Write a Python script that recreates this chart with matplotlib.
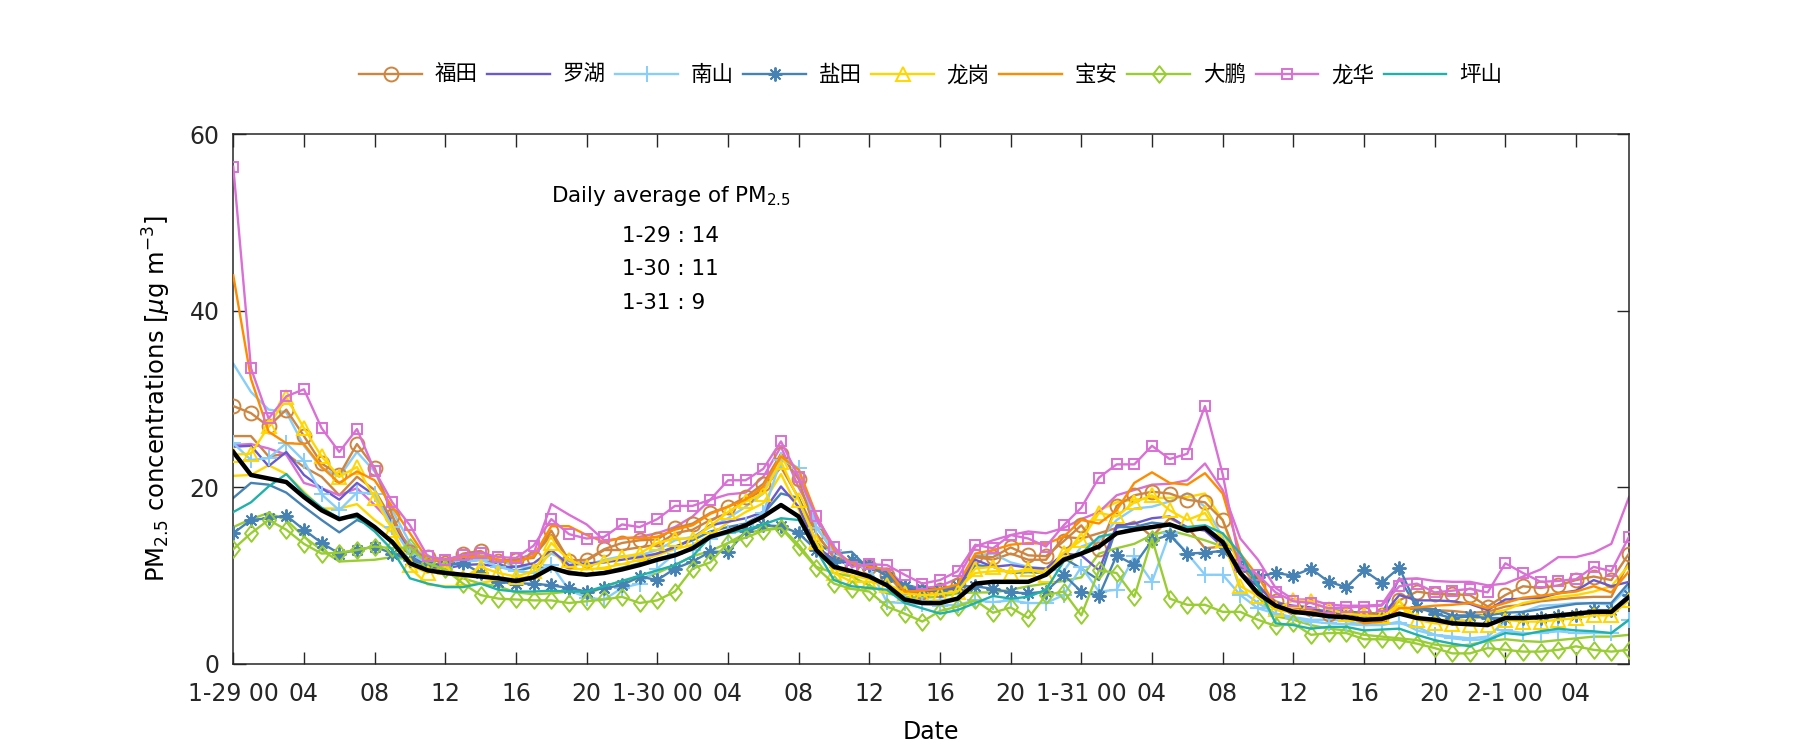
import matplotlib
matplotlib.use("Agg")
import matplotlib.pyplot as plt
import numpy as np
from matplotlib.path import Path

plt.rcParams['font.family'] = ['DejaVu Sans', 'Noto Sans CJK SC']
plt.rcParams['mathtext.fontset'] = 'dejavusans'

hours = np.arange(80)
tick_pos = list(range(0, 80, 4))
tick_labels = ["1-29 00", "04", "08", "12", "16", "20",
               "1-30 00", "04", "08", "12", "16", "20",
               "1-31 00", "04", "08", "12", "16", "20",
               "2-1 00", "04"]

futian = [29.2, 28.4, 26.9, 28.8, 25.8, 22.7, 21.4, 24.9, 22.2, 16.8, 12.7, 12.1, 11.4, 12.5, 12.8, 11.7,
          11.8, 12.0, 15.1, 11.7, 11.8, 13.0, 13.7, 14.0, 14.1, 15.4, 15.9, 17.1, 17.8, 18.9, 20.4, 23.8,
          20.9, 14.7, 12.2, 11.2, 11.0, 10.1, 8.0, 8.2, 8.4, 8.9, 12.2, 12.1, 13.2, 12.3, 12.2, 13.9,
          15.7, 13.0, 17.9, 19.1, 19.5, 19.3, 18.6, 18.3, 16.3, 11.2, 8.8, 7.1, 6.4, 6.2, 5.7, 5.7,
          5.7, 5.5, 7.2, 8.2, 7.9, 7.9, 7.8, 6.5, 7.8, 8.8, 8.6, 8.9, 9.5, 9.9, 9.5, 12.5]
futian_b = [25.8, 25.8, 23.5, 23.8, 22.3, 21.2, 19.1, 21.2, 19.7, 16.3, 12.9, 12.0, 11.8, 12.3, 12.3, 11.8,
            11.5, 12.2, 14.6, 11.8, 11.7, 12.9, 12.9, 13.2, 13.5, 14.8, 15.2, 16.3, 17.1, 18.6, 19.7, 22.3,
            18.8, 14.8, 12.0, 11.2, 11.0, 10.3, 7.9, 8.0, 8.3, 8.7, 12.1, 11.8, 12.5, 11.8, 11.8, 14.4,
            14.2, 14.8, 15.4, 16.1, 14.4, 16.5, 15.5, 13.1, 13.3, 10.3, 8.8, 6.9, 6.5, 6.2, 6.0, 5.9,
            5.8, 5.7, 6.5, 6.1, 6.1, 6.0, 5.8, 5.9, 6.5, 6.7, 7.1, 7.3, 7.5, 7.6, 7.6, 11.6]
luohu = [24.6, 24.7, 22.4, 24.0, 21.4, 19.9, 18.6, 20.5, 19.1, 15.9, 12.5, 11.0, 10.8, 11.2, 11.3, 11.0,
         11.0, 11.4, 12.9, 11.2, 11.4, 11.5, 11.8, 12.1, 12.5, 13.2, 14.2, 15.7, 16.1, 16.5, 17.2, 20.1,
         17.8, 13.3, 11.8, 11.2, 11.0, 10.6, 8.6, 8.3, 8.3, 8.6, 11.8, 11.0, 11.2, 10.9, 10.8, 12.5,
         12.3, 10.6, 15.7, 15.9, 16.5, 16.7, 15.4, 15.1, 13.3, 10.3, 8.8, 6.9, 6.6, 6.4, 5.7, 5.6,
         5.5, 5.4, 7.8, 7.2, 7.2, 7.1, 6.8, 6.1, 7.3, 7.4, 7.5, 8.0, 8.3, 9.5, 8.8, 9.3]
nanshan = [25.0, 23.1, 23.3, 25.0, 23.0, 19.2, 17.4, 19.4, 19.3, 15.5, 12.5, 11.4, 11.0, 11.5, 11.8, 11.0,
           10.5, 10.3, 11.2, 8.4, 7.5, 7.3, 8.6, 9.1, 10.8, 12.5, 12.9, 14.2, 14.8, 15.7, 17.1, 23.1,
           22.2, 15.4, 12.9, 11.3, 10.9, 7.0, 6.9, 6.8, 6.6, 6.7, 7.2, 7.0, 7.2, 6.9, 6.9, 7.8,
           11.0, 8.2, 8.4, 12.2, 9.3, 14.8, 12.5, 10.1, 10.1, 7.8, 6.3, 5.7, 5.2, 4.8, 4.6, 4.5,
           4.4, 4.5, 4.6, 4.2, 3.3, 2.9, 2.7, 2.8, 3.8, 3.5, 3.5, 3.7, 3.5, 3.5, 3.5, 5.0]
nanshan_b = [34.0, 30.8, 28.8, 28.5, 24.7, 22.2, 21.2, 24.0, 21.8, 17.4, 13.7, 11.8, 11.6, 11.9, 12.2, 11.8,
             11.0, 10.9, 12.5, 11.6, 11.2, 11.8, 12.2, 12.3, 12.9, 14.0, 14.4, 15.5, 16.5, 17.8, 19.3, 23.8,
             22.0, 15.5, 12.6, 11.5, 11.0, 10.6, 7.6, 7.1, 7.2, 7.5, 12.3, 12.5, 11.5, 11.0, 10.8, 10.5,
             13.3, 14.0, 16.3, 17.6, 17.8, 18.4, 19.3, 17.8, 14.4, 8.4, 6.9, 5.7, 5.3, 5.0, 5.0, 4.9,
             4.4, 4.4, 4.8, 3.8, 3.3, 3.1, 2.9, 3.1, 4.8, 5.9, 6.6, 6.7, 6.9, 6.9, 6.7, 8.8]
yantian = [14.8, 16.3, 16.5, 16.8, 15.2, 13.7, 12.5, 12.9, 13.3, 12.5, 11.8, 11.2, 11.2, 11.4, 10.3, 9.3,
           9.1, 9.1, 8.9, 8.6, 8.2, 8.6, 8.9, 9.9, 9.5, 10.8, 11.6, 12.7, 12.7, 15.0, 15.7, 15.6,
           14.8, 12.9, 11.6, 11.8, 11.2, 9.9, 8.8, 8.5, 8.4, 8.8, 8.8, 8.5, 8.1, 8.0, 8.2, 10.1,
           8.2, 7.7, 12.3, 11.2, 14.0, 14.6, 12.5, 12.6, 12.8, 11.0, 9.9, 10.3, 10.0, 10.8, 9.3, 8.7,
           10.6, 9.2, 10.9, 6.5, 5.7, 5.2, 5.4, 5.2, 5.2, 5.2, 5.2, 5.4, 5.5, 6.1, 6.1, 7.8]
yantian_b = [18.8, 20.5, 20.3, 19.4, 17.8, 16.3, 14.9, 16.3, 15.5, 13.7, 12.5, 11.4, 11.2, 11.6, 11.8, 11.4,
             10.5, 11.0, 10.8, 10.5, 10.1, 10.4, 10.9, 11.4, 12.5, 13.3, 14.0, 15.0, 15.5, 15.9, 17.0, 19.3,
             18.8, 13.7, 12.5, 12.7, 10.7, 10.4, 9.0, 8.5, 8.4, 8.6, 11.2, 11.0, 10.3, 10.4, 10.3, 12.0,
             10.8, 9.5, 15.5, 15.5, 16.0, 15.8, 15.3, 15.6, 14.0, 12.0, 9.0, 6.8, 6.0, 5.8, 6.1, 6.0,
             5.7, 5.6, 9.7, 6.4, 6.2, 5.5, 5.5, 5.5, 5.8, 5.9, 6.2, 6.5, 6.8, 6.9, 6.9, 9.2]
longgang = [23.7, 23.8, 26.9, 30.2, 26.7, 23.5, 21.2, 22.3, 18.8, 15.2, 11.2, 10.3, 11.0, 9.7, 11.0, 10.3,
            9.9, 10.5, 13.7, 11.8, 11.0, 11.6, 12.1, 12.5, 13.7, 14.2, 14.2, 15.6, 17.2, 18.4, 19.3, 22.9,
            18.6, 13.8, 10.3, 9.3, 9.3, 8.9, 8.0, 7.8, 7.9, 8.2, 10.8, 11.0, 10.3, 10.8, 10.1, 12.6,
            14.0, 17.1, 16.7, 18.3, 19.1, 17.4, 16.3, 17.1, 14.0, 8.8, 7.7, 6.2, 7.2, 7.1, 6.2, 5.7,
            5.5, 5.4, 6.6, 5.0, 4.6, 4.5, 4.4, 4.4, 5.0, 4.8, 4.8, 5.0, 5.2, 5.5, 5.5, 7.2]
longgang_b = [21.3, 21.4, 22.5, 21.5, 19.5, 17.6, 17.6, 18.1, 16.3, 14.9, 10.9, 9.0, 8.8, 8.8, 9.2, 9.5,
              9.7, 9.9, 12.9, 10.8, 10.7, 10.9, 11.3, 11.8, 12.3, 13.0, 13.5, 14.6, 16.0, 17.2, 18.2, 21.5,
              17.5, 13.0, 10.8, 10.0, 9.6, 9.0, 8.2, 8.0, 8.1, 8.5, 10.3, 10.5, 10.5, 10.5, 10.7, 12.0,
              14.8, 17.4, 18.3, 18.6, 18.8, 18.8, 18.9, 19.3, 16.3, 10.5, 7.6, 6.1, 5.8, 5.6, 5.4, 5.3,
              5.2, 5.2, 7.1, 5.2, 5.0, 5.0, 4.9, 5.7, 6.1, 6.9, 7.3, 7.6, 7.8, 8.2, 8.8, 11.2]
baoan = [44.0, 32.3, 26.3, 25.0, 24.9, 22.3, 20.5, 21.8, 20.8, 17.8, 14.8, 11.8, 11.8, 12.1, 12.2, 11.8,
         11.5, 12.2, 15.6, 15.6, 14.6, 13.8, 14.3, 14.2, 14.4, 15.2, 15.7, 17.0, 17.8, 18.6, 20.1, 23.5,
         22.0, 16.9, 12.9, 11.4, 11.0, 10.7, 8.2, 8.3, 8.5, 9.0, 12.5, 12.9, 13.5, 13.7, 13.6, 14.4,
         16.3, 15.9, 17.4, 20.5, 21.7, 20.5, 20.3, 21.6, 19.3, 12.5, 9.9, 6.6, 6.1, 5.9, 5.6, 5.4,
         4.6, 4.8, 6.3, 6.4, 6.6, 6.7, 6.9, 6.3, 6.9, 7.5, 7.7, 8.0, 8.2, 8.8, 8.1, 10.5]
dapeng = [13.0, 14.8, 16.3, 15.2, 13.6, 12.5, 12.6, 12.9, 13.3, 13.1, 13.2, 11.4, 10.7, 9.1, 7.8, 7.4,
          7.3, 7.2, 7.2, 6.9, 7.1, 7.3, 7.6, 6.9, 7.2, 8.2, 10.8, 11.5, 13.7, 14.3, 15.1, 15.4,
          13.2, 10.9, 9.1, 8.5, 8.2, 6.5, 5.7, 4.8, 6.0, 6.5, 7.2, 5.8, 6.4, 5.2, 7.8, 8.2,
          5.5, 10.6, 10.3, 7.6, 14.2, 7.4, 6.7, 6.7, 5.9, 5.9, 5.0, 4.3, 4.6, 3.3, 3.5, 3.5,
          2.8, 2.8, 2.7, 2.3, 1.8, 1.2, 1.2, 1.8, 1.6, 1.4, 1.4, 1.6, 2.0, 1.6, 1.4, 1.6]
dapeng_b = [15.5, 16.4, 17.1, 16.3, 14.4, 12.9, 11.6, 11.7, 11.8, 12.1, 11.8, 11.0, 10.3, 9.7, 9.1, 8.8,
            8.1, 7.9, 8.0, 8.2, 7.8, 8.8, 9.4, 9.6, 10.3, 11.2, 12.2, 12.8, 13.7, 14.8, 15.2, 15.5,
            13.5, 11.0, 10.3, 9.9, 8.9, 8.0, 7.6, 7.5, 7.6, 8.0, 8.1, 8.1, 8.4, 8.8, 9.1, 9.4,
            9.8, 12.5, 13.1, 13.6, 14.6, 15.1, 14.6, 14.0, 13.3, 10.3, 7.6, 5.4, 5.0, 4.4, 4.0, 3.8,
            3.3, 3.1, 2.9, 2.7, 2.2, 2.0, 2.2, 2.6, 2.8, 2.6, 2.5, 2.7, 2.9, 3.1, 3.1, 3.3]
longhua = [56.3, 33.5, 27.8, 30.3, 31.1, 26.7, 24.0, 26.6, 21.9, 18.3, 15.7, 12.2, 11.8, 12.3, 12.6, 12.1,
           12.0, 13.4, 16.4, 14.7, 14.2, 14.4, 15.8, 15.5, 16.4, 17.9, 17.9, 18.6, 20.8, 20.8, 22.1, 25.2,
           21.2, 16.7, 13.3, 11.0, 11.3, 11.2, 10.1, 9.1, 9.5, 10.5, 13.5, 13.1, 14.6, 14.2, 13.3, 15.7,
           17.7, 21.1, 22.6, 22.6, 24.7, 23.2, 23.8, 29.2, 21.5, 11.2, 10.1, 8.1, 7.1, 6.9, 6.3, 6.4,
           6.5, 6.6, 8.8, 9.1, 8.1, 8.3, 8.5, 8.1, 11.4, 10.3, 9.3, 9.4, 9.6, 11.0, 10.5, 14.4]
longhua_b = [24.8, 24.9, 24.4, 23.7, 20.5, 19.9, 19.1, 19.9, 18.0, 15.9, 13.3, 11.8, 11.5, 11.9, 12.0, 11.5,
             11.8, 12.5, 18.1, 16.9, 15.8, 14.0, 14.2, 14.4, 14.8, 15.5, 16.7, 18.6, 19.2, 19.4, 21.2, 24.6,
             20.0, 16.3, 12.9, 11.2, 10.8, 10.8, 8.8, 8.6, 8.8, 9.7, 13.3, 14.0, 14.6, 15.0, 14.8, 15.4,
             16.4, 17.2, 19.1, 19.7, 20.3, 20.4, 20.8, 22.7, 19.7, 14.2, 11.8, 8.6, 7.3, 7.3, 6.7, 6.6,
             6.6, 6.7, 9.6, 9.7, 9.4, 9.3, 9.3, 8.9, 9.1, 9.9, 10.7, 12.1, 12.1, 12.6, 13.6, 18.9]
pingshan = [17.2, 18.3, 20.1, 21.5, 19.3, 17.7, 16.5, 16.6, 15.0, 12.9, 9.7, 9.1, 8.7, 8.7, 9.1, 8.4,
            8.2, 8.2, 8.3, 8.2, 8.2, 8.8, 9.4, 10.0, 10.6, 11.2, 12.2, 14.4, 14.8, 15.2, 15.8, 16.5,
            16.3, 12.9, 9.5, 8.8, 8.6, 8.4, 6.9, 6.3, 5.7, 6.1, 6.9, 7.7, 7.4, 7.6, 8.4, 11.6,
            12.5, 14.4, 14.8, 15.4, 15.5, 15.7, 15.5, 15.7, 14.8, 12.5, 8.8, 4.6, 4.4, 4.0, 4.2, 4.2,
            3.8, 3.9, 4.0, 3.3, 2.7, 2.3, 2.0, 2.7, 3.5, 3.3, 3.7, 4.0, 3.8, 3.7, 3.5, 5.0]
average = [24.0, 21.4, 21.0, 20.6, 18.9, 17.4, 16.4, 16.9, 15.5, 13.8, 11.4, 10.6, 10.3, 10.1, 9.9, 9.7,
           9.4, 9.8, 10.9, 10.3, 10.1, 10.3, 10.7, 11.2, 11.8, 12.3, 13.1, 14.4, 15.0, 15.7, 16.7, 18.0,
           16.7, 12.9, 11.0, 10.5, 9.9, 8.9, 7.3, 6.9, 6.9, 7.4, 9.1, 9.3, 9.3, 9.3, 10.1, 11.8,
           12.5, 13.3, 14.8, 15.2, 15.5, 15.8, 15.1, 15.4, 13.8, 10.3, 8.0, 6.6, 5.9, 5.7, 5.4, 5.3,
           5.0, 5.1, 5.7, 5.2, 5.0, 4.6, 4.5, 4.4, 5.2, 5.2, 5.3, 5.5, 5.7, 5.9, 5.9, 7.6]

names = ["福田", "罗湖", "南山", "盐田", "龙岗", "宝安", "大鹏", "龙华", "坪山"]
colors = ["#CD853F", "#6A5ACD", "#87CEFA", "#4682B4", "#FFD700",
          "#FF8C00", "#9ACD32", "#DA70D6", "#20B2AA"]
diamond = Path([(0, 1), (0.78, 0), (0, -1), (-0.78, 0), (0, 1)],
               [Path.MOVETO, Path.LINETO, Path.LINETO, Path.LINETO, Path.CLOSEPOLY])
markers = ["o", None, "+", (8, 2, 0), "^", None, diamond, "s", None]
msizes = [10, 0, 11, 10, 10, 0, 12, 7, 0]
main_series = [futian, luohu, nanshan, yantian, longgang, baoan, dapeng, longhua, pingshan]
extra_series = [futian_b, nanshan_b, yantian_b, longgang_b, dapeng_b, longhua_b]
extra_colors = ["#CD853F", "#87CEFA", "#4682B4", "#FFD700", "#9ACD32", "#DA70D6"]

fig = plt.figure(figsize=(18, 7.5), dpi=100)
ax = fig.add_axes([0.1296, 0.1147, 0.7754, 0.7066])

for s, c in zip(extra_series, extra_colors):
    ax.plot(hours, s, color=c, lw=1.7, zorder=2)

handles = []
for s, n, c, m, ms in zip(main_series, names, colors, markers, msizes):
    h, = ax.plot(hours, s, color=c, lw=1.7, marker=m, markersize=ms,
                 markerfacecolor='none', markeredgecolor=c, markeredgewidth=1.4,
                 label=n, zorder=3)
    handles.append(h)

ax.plot(hours, average, color='black', lw=3.2, zorder=4)

ax.set_xlim(0, 79)
ax.set_ylim(0, 60)
ax.set_xticks(tick_pos)
ax.set_xticklabels(tick_labels)
ax.set_yticks([0, 20, 40, 60])
ax.tick_params(direction='in', length=9, width=1, top=True, right=True,
               labelsize=17, colors='#262626')
ax.tick_params(axis='x', pad=13)
ax.tick_params(axis='y', pad=10)
for sp in ax.spines.values():
    sp.set_linewidth(1.1)
    sp.set_color('#262626')

ax.set_xlabel("Date", fontsize=17, labelpad=10)
ax.set_ylabel(r"PM$_{2.5}$ concentrations [$\mu$g m$^{-3}$]", fontsize=17.5, labelpad=12)

ax.text(18.0, 53.0, r"Daily average of PM$_{2.5}$", fontsize=15.5, va='center', ha='left')
ax.text(22.0, 48.5, "1-29 : 14", fontsize=15.5, va='center', ha='left')
ax.text(22.0, 44.7, "1-30 : 11", fontsize=15.5, va='center', ha='left')
ax.text(22.0, 40.9, "1-31 : 9", fontsize=15.5, va='center', ha='left')

fig.legend(handles=handles, labels=names, loc='center', bbox_to_anchor=(0.517, 0.900),
           ncol=9, frameon=False, fontsize=15.5, handlelength=2.9, handletextpad=0.6,
           columnspacing=0.45)

fig.savefig("out.png", dpi=100)
